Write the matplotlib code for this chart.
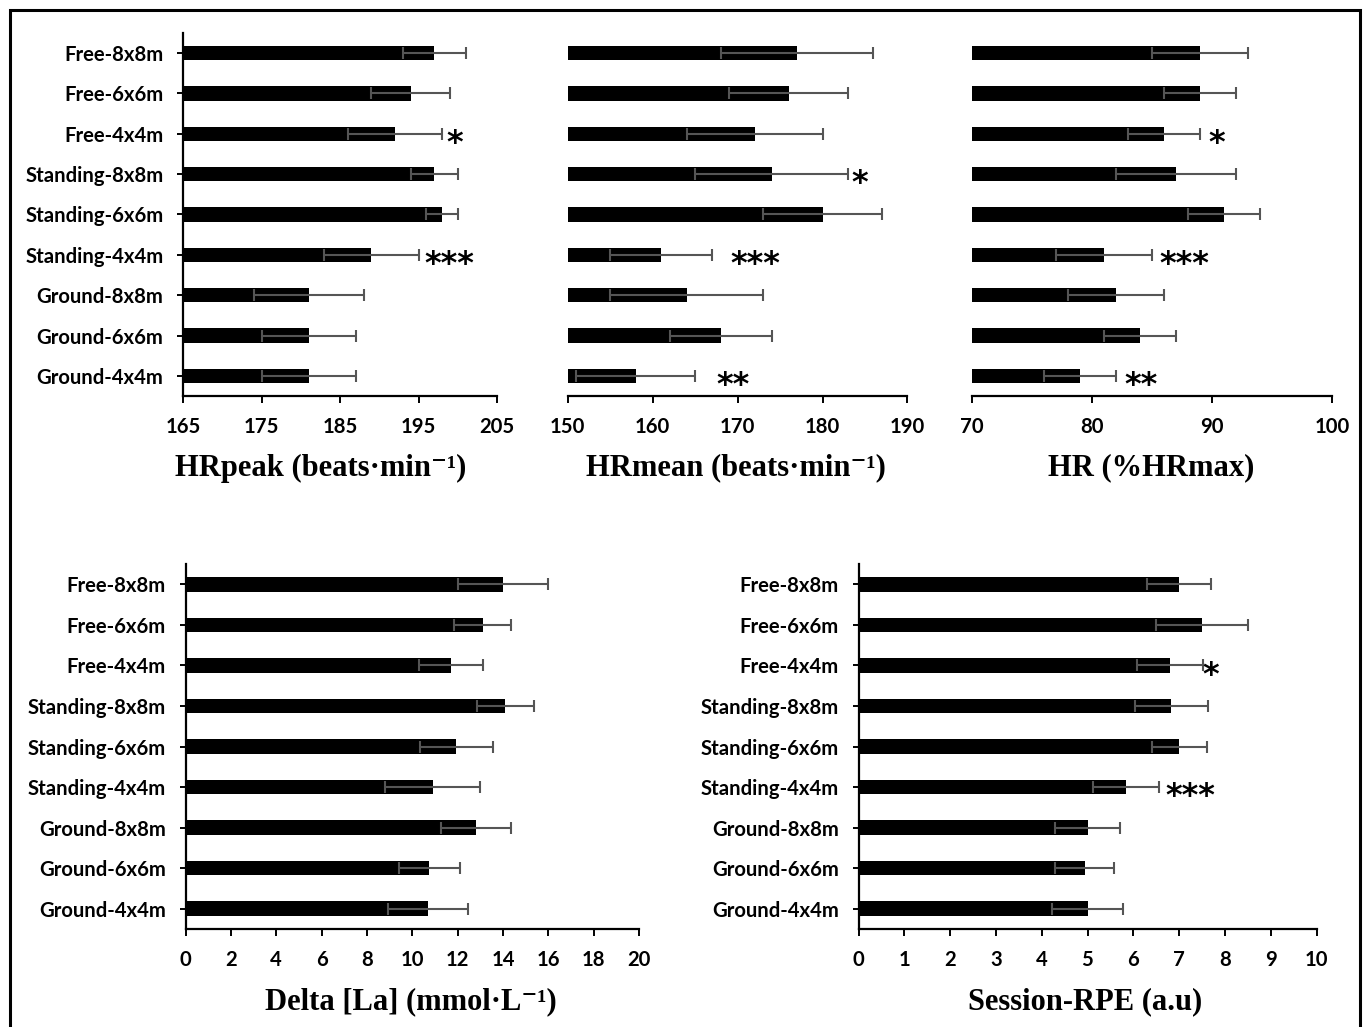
import numpy as np
import matplotlib
matplotlib.use('Agg')
import matplotlib.pyplot as plt
from matplotlib.patches import Rectangle

# 类别 (top to bottom as in picture)
labels = ['Free-8x8m', 'Free-6x6m', 'Free-4x4m', 'Standing-8x8m', 'Standing-6x6m',
          'Standing-4x4m', 'Ground-8x8m', 'Ground-6x6m', 'Ground-4x4m']

hrpeak_mean = [197, 194, 192, 197, 198, 189, 181, 181, 181]
hrpeak_sd = [4, 5, 6, 3, 2, 6, 7, 6, 6]

hrmean_mean = [177, 176, 172, 174, 180, 161, 164, 168, 158]
hrmean_sd = [9, 7, 8, 9, 7, 6, 9, 6, 7]

hrpct_mean = [89, 89, 86, 87, 91, 81, 82, 84, 79]
hrpct_sd = [4, 3, 3, 5, 3, 4, 4, 3, 3]

la_mean = [14.0, 13.1, 11.7, 14.1, 11.95, 10.9, 12.8, 10.75, 10.7]
la_sd = [2.0, 1.25, 1.4, 1.25, 1.6, 2.1, 1.55, 1.35, 1.75]

rpe_mean = [7.0, 7.5, 6.8, 6.83, 7.0, 5.84, 5.0, 4.94, 5.0]
rpe_sd = [0.7, 1.0, 0.73, 0.8, 0.6, 0.72, 0.7, 0.64, 0.77]

# 显著性标记: (类别, 文本, x左端)
stars_hrpeak = [('Free-4x4m', '*', 198.6), ('Standing-4x4m', '***', 195.8)]
stars_hrmean = [('Standing-8x8m', '*', 183.4), ('Standing-4x4m', '***', 169.1),
                ('Ground-4x4m', '**', 167.5)]
stars_hrpct = [('Free-4x4m', '*', 89.7), ('Standing-4x4m', '***', 85.6),
               ('Ground-4x4m', '**', 82.7)]
stars_rpe = [('Free-4x4m', '*', 7.5), ('Standing-4x4m', '***', 6.71)]

TICKFONT = 'Lato'
TITLEFONT = ['Liberation Serif', 'DejaVu Serif']
TICKSIZE = 14.6


def 画条形(ax, mean, sd, xlim, xticks, stars, show_y=True):
    y = np.arange(len(labels))[::-1]
    ax.barh(y, mean, height=0.36, left=0, color='black', zorder=2)
    ax.errorbar(mean, y, xerr=sd, fmt='none', ecolor='#555555', elinewidth=1.5,
                capsize=4.5, capthick=1.5, zorder=3)
    ax.set_xlim(xlim)
    ax.set_ylim(-0.5, len(labels) - 0.5)
    ax.set_xticks(xticks)
    ax.set_xticklabels([str(t) for t in xticks], fontfamily=TICKFONT,
                       fontweight='bold', fontsize=TICKSIZE)
    for s in ['top', 'right']:
        ax.spines[s].set_visible(False)
    ax.spines['bottom'].set_linewidth(1.6)
    ax.tick_params(axis='x', direction='out', length=5, width=1.4, pad=10)
    if show_y:
        ax.set_yticks(y)
        ax.set_yticklabels(labels, fontfamily=TICKFONT, fontweight='bold', fontsize=TICKSIZE)
        ax.spines['left'].set_linewidth(1.6)
        ax.tick_params(axis='y', direction='out', length=4, width=1.4, pad=10)
    else:
        ax.spines['left'].set_visible(False)
        ax.set_yticks([])
    for cat, txt, xs in stars:
        yy = len(labels) - 1 - labels.index(cat)
        ax.annotate(txt, (xs, yy), xytext=(0, -7), textcoords='offset points',
                    ha='left', va='center', fontsize=23, fontweight='bold',
                    fontfamily='DejaVu Sans', zorder=4)


fig = plt.figure(figsize=(13.66, 10.27), dpi=100)

ax1 = fig.add_axes([0.1340, 0.6144, 0.2299, 0.3535])
ax2 = fig.add_axes([0.4156, 0.6144, 0.2487, 0.3535])
ax3 = fig.add_axes([0.7116, 0.6144, 0.2638, 0.3535])
ax4 = fig.add_axes([0.1358, 0.0954, 0.3320, 0.3554])
ax5 = fig.add_axes([0.6285, 0.0954, 0.3353, 0.3554])

画条形(ax1, hrpeak_mean, hrpeak_sd, (165, 205), [165, 175, 185, 195, 205], stars_hrpeak)
画条形(ax2, hrmean_mean, hrmean_sd, (150, 190), [150, 160, 170, 180, 190], stars_hrmean, show_y=False)
画条形(ax3, hrpct_mean, hrpct_sd, (70, 100), [70, 80, 90, 100], stars_hrpct, show_y=False)
画条形(ax4, la_mean, la_sd, (0, 20), list(range(0, 21, 2)), [])
画条形(ax5, rpe_mean, rpe_sd, (0, 10), list(range(0, 11)), stars_rpe)

# 轴标题
W, H = 1366, 1027
titles = [('HRpeak (beats·min⁻¹)', 321, 468), ('HRmean (beats·min⁻¹)', 736, 468),
          ('HR (%HRmax)', 1151, 468), ('Delta [La] (mmol·L⁻¹)', 411, 1002),
          ('Session-RPE (a.u)', 1085, 1002)]
for t, px, py in titles:
    fig.text(px / W, 1 - py / H, t, ha='center', va='center', fontsize=22,
             fontweight='bold', family=TITLEFONT)

# 外框
fig.add_artist(Rectangle((10 / W, -0.02), 1350 / W, 1 - 10 / H + 0.02,
                         transform=fig.transFigure, fill=False, lw=2.2, ec='black'))

fig.savefig('out.png', dpi=100)
